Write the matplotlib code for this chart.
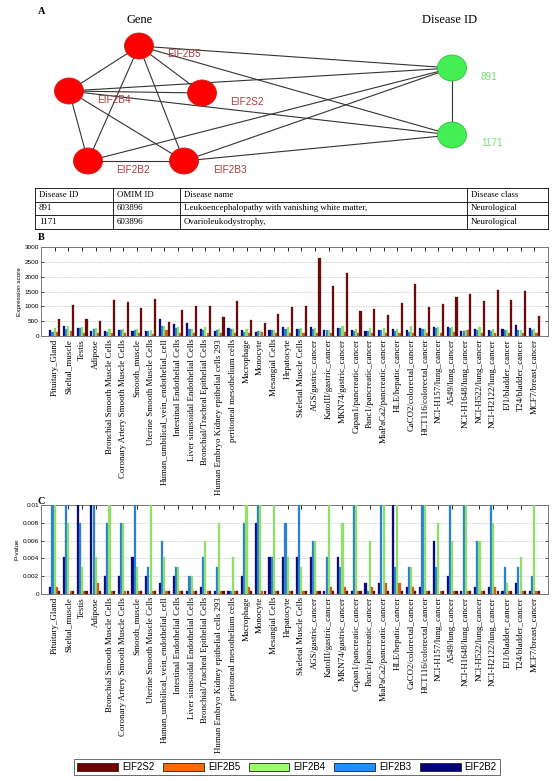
import numpy as np
import matplotlib
matplotlib.use("Agg")
import matplotlib.pyplot as plt
from matplotlib.patches import Ellipse, Patch

# ---------------- data ----------------
categories = [
    "Pituitary_Gland", "Skeltal_muscle", "Testis", "Adipose",
    "Bronchial Smooth Muscle Cells", "Coronary Artery Smooth Muscle Cells",
    "Smooth_muscle", "Uterine Smooth Muscle Cells",
    "Human_umbilical_vein_endothelial_cell", "Intestinal Endothelial Cells",
    "Liver sinusoidal Endothelial Cells", "Bronchial/Tracheal Epithelial Cells",
    "Human Embryo Kidney epithelial cells 293", "peritoneal mesothelium cells",
    "Macrophage", "Monocyte", "Mesangial Cells", "Hepatocyte",
    "Skeletal Muscle Cells", "AGS/gastric_cancer", "KatoIII/gastric_cancer",
    "MKN74/gastric_cancer", "Capan1/pancreatic_cancer", "Panc1/pancreatic_cancer",
    "MiaPaCa2/pancreatic_cancer", "HLE/hepatic_cancer", "CaCO2/colorectal_cancer",
    "HCT116/colorectal_cancer", "NCI-H157/lung_cancer", "A549/lung_cancer",
    "NCI-H1648/lung_cancer", "NCI-H522/lung_cancer", "NCI-H2122/lung_cancer",
    "EJ1/bladder_cancer", "T24/bladder_cancer", "MCF7/breast_cancer",
]

series_names = ["EIF2B2", "EIF2B3", "EIF2B4", "EIF2B5", "EIF2S2"]

# Panel B: expression score
expr_EIF2B2 = [202, 337, 258, 180, 168, 213, 180, 157, 585, 416, 438, 247,
               180, 281, 213, 124, 202, 315, 247, 292, 213, 258, 202, 180,
               191, 225, 202, 270, 292, 292, 180, 236, 202, 247, 382, 270]
expr_EIF2B3 = [146, 225, 258, 236, 146, 213, 202, 157, 337, 258, 225, 202,
               202, 247, 146, 157, 202, 247, 247, 236, 213, 270, 168, 168,
               191, 168, 146, 247, 270, 258, 180, 202, 168, 202, 202, 202]
expr_EIF2B4 = [281, 337, 292, 270, 225, 225, 247, 202, 326, 292, 247, 292,
               225, 225, 247, 180, 191, 292, 270, 258, 213, 326, 225, 258,
               258, 247, 348, 236, 292, 292, 213, 315, 247, 213, 202, 225]
expr_EIF2B5 = [124, 180, 90, 90, 90, 90, 90, 79, 202, 112, 90, 90,
               90, 90, 90, 135, 90, 90, 90, 90, 112, 135, 112, 90,
               112, 90, 112, 112, 90, 135, 202, 112, 90, 112, 90, 90]
expr_EIF2S2 = [580, 1060, 580, 500, 1215, 1130, 940, 1255, 475, 890, 1005, 1000,
               640, 1190, 530, 425, 742, 978, 1011, 2618, 1685, 2112, 843, 900,
               708, 1101, 1764, 978, 1067, 1315, 1427, 1191, 1550, 1202, 1505, 674]

# Panel C: P-value
p_EIF2B2 = [0.00075, 0.0042, 0.01, 0.01, 0.002, 0.002, 0.0042, 0.002, 0.0012, 0.002,
            0.0003, 0.00075, 0.0003, 0.0003, 0.002, 0.008, 0.0042, 0.0042, 0.0042,
            0.0042, 0.0003, 0.0042, 0.0003, 0.0012, 0.0012, 0.01, 0.00075, 0.00075,
            0.006, 0.002, 0.0003, 0.00075, 0.00075, 0.0003, 0.0012, 0.0003]
p_EIF2B3 = [0.01, 0.01, 0.008, 0.01, 0.008, 0.008, 0.01, 0.003, 0.006, 0.003,
            0.002, 0.0042, 0.003, 0.0003, 0.008, 0.01, 0.0042, 0.008, 0.01,
            0.006, 0.0042, 0.003, 0.01, 0.0003, 0.01, 0.003, 0.003, 0.01,
            0.003, 0.01, 0.01, 0.006, 0.01, 0.003, 0.003, 0.002]
p_EIF2B4 = [0.01, 0.008, 0.003, 0.0042, 0.01, 0.008, 0.003, 0.01, 0.0042, 0.003,
            0.002, 0.006, 0.008, 0.0042, 0.01, 0.01, 0.01, 0.0042, 0.003,
            0.006, 0.01, 0.008, 0.01, 0.006, 0.01, 0.01, 0.003, 0.01,
            0.008, 0.006, 0.01, 0.006, 0.008, 0.0012, 0.0042, 0.01]
p_EIF2B5 = [0.00075, 0.0003, 0.0003, 0.0012, 0.0003, 0.0003, 0.0003, 0.0003, 0.0003, 0.0003,
            0.0003, 0.0003, 0.0003, 0.0003, 0.00075, 0.0003, 0.0003, 0.0003, 0.0003,
            0.0003, 0.00075, 0.00075, 0.0003, 0.00075, 0.0012, 0.0012, 0.00075, 0.0003,
            0.0003, 0.0003, 0.0003, 0.0003, 0.00075, 0.0003, 0.0003, 0.0003]
p_EIF2S2 = [0.0003] * 36

# Panel A network
gene_nodes = ["EIF2B5", "EIF2B4", "EIF2S2", "EIF2B2", "EIF2B3"]
disease_nodes = ["891", "1171"]
edges = [("EIF2B5", "EIF2B4"), ("EIF2B5", "EIF2S2"), ("EIF2B5", "EIF2B2"),
         ("EIF2B5", "EIF2B3"), ("EIF2B5", "891"), ("EIF2B5", "1171"),
         ("EIF2B4", "EIF2S2"), ("EIF2B4", "EIF2B2"), ("EIF2B4", "EIF2B3"),
         ("EIF2B4", "891"), ("EIF2B4", "1171"),
         ("EIF2B2", "EIF2B3"), ("EIF2B2", "891"),
         ("EIF2B3", "891"), ("EIF2B3", "1171"), ("891", "1171")]

table_header = ["Disease ID", "OMIM ID", "Disease name", "Disease class"]
table_rows = [["891", "603896", "Leukoencephalopathy with vanishing white matter,", "Neurological"],
              ["1171", "603896", "Ovarioleukodystrophy,", "Neurological"]]

# ---------------- styling ----------------
bar_colors = {"EIF2B2": "#0b0b7a", "EIF2B3": "#2a80d2", "EIF2B4": "#8fe06a",
              "EIF2B5": "#c8621e", "EIF2S2": "#6a0c0c"}
legend_colors = {"EIF2S2": "#720000", "EIF2B5": "#ff6a00", "EIF2B4": "#9cff66",
                 "EIF2B3": "#1e90ff", "EIF2B2": "#000080"}

W, H = 554, 781
fig = plt.figure(figsize=(W / 100, H / 100), dpi=100)

def frac(x0, y0, x1, y1):
    return [x0 / W, 1 - y1 / H, (x1 - x0) / W, (y1 - y0) / H]

serif = "Liberation Serif"
sans = "Liberation Sans"

# ---------------- Panel A ----------------
axA = fig.add_axes([0, 1 - 232 / H, 1, 232 / H])
axA.set_xlim(0, W)
axA.set_ylim(232, 0)
axA.axis("off")

pos = {"EIF2B5": (139, 46), "EIF2B4": (69, 91), "EIF2S2": (202, 93),
       "EIF2B2": (88, 161), "EIF2B3": (184, 161), "891": (452, 68), "1171": (452, 135)}
lab = {"EIF2B5": (167, 54), "EIF2B4": (97, 100), "EIF2S2": (230, 102),
       "EIF2B2": (116, 170), "EIF2B3": (213, 170), "891": (481, 77), "1171": (481, 143)}

for a, b in edges:
    axA.plot([pos[a][0], pos[b][0]], [pos[a][1], pos[b][1]], color="#333333", lw=0.8, zorder=1)
for n in gene_nodes:
    axA.add_patch(Ellipse(pos[n], 29, 26, facecolor="#ff0000", edgecolor="#cc2020", lw=0.6, zorder=2))
    axA.text(*lab[n], n, color="#a83a3a", fontsize=7.2, family=sans, va="center", ha="left")
for n in disease_nodes:
    axA.add_patch(Ellipse(pos[n], 29, 26, facecolor="#44ee55", edgecolor="#33bb44", lw=0.6, zorder=2))
    axA.text(*lab[n], n, color="#77dd77", fontsize=7.2, family=sans, va="center", ha="left")

axA.text(38, 12, "A", fontsize=7.5, fontweight="bold", family=serif, va="center")
axA.text(140, 20, "Gene", fontsize=9, family=serif, ha="center", va="center")
axA.text(450, 20, "Disease ID", fontsize=9, family=serif, ha="center", va="center")

# table
col_x = [35, 113, 180, 467, 548]
row_y = [188, 201.5, 215, 229]
for xx in col_x:
    axA.plot([xx, xx], [row_y[0], row_y[-1]], color="black", lw=0.6)
for y in row_y:
    axA.plot([col_x[0], col_x[-1]], [y, y], color="black", lw=0.6)
for r, row in enumerate([table_header] + table_rows):
    yc = (row_y[r] + row_y[r + 1]) / 2
    for c, txt in enumerate(row):
        axA.text(col_x[c] + 4, yc, txt, fontsize=6.4, family=serif, va="center", ha="left")

# ---------------- Bar panels ----------------
x = np.arange(1, len(categories) + 1)
bw = 0.155
offsets = np.array([-2, -1, 0, 1, 2]) * 0.16

def bar_panel(ax, data, ylim, yticks, yticklabels, ylabel):
    for k, name in enumerate(series_names):
        ax.bar(x + offsets[k], data[k], width=bw, color=bar_colors[name],
               edgecolor=bar_colors[name], linewidth=0.2, zorder=3)
    ax.set_xlim(0, len(categories) + 1)
    ax.set_ylim(*ylim)
    ax.set_yticks(yticks)
    ax.set_yticklabels(yticklabels, fontsize=4.6, family=sans)
    ax.set_xticks(x)
    ax.set_xticklabels(categories, rotation=90, fontsize=6.4, family=serif, va="top")
    ax.tick_params(axis="x", direction="in", top=True, bottom=True, length=3, width=0.6, pad=2)
    ax.tick_params(axis="y", direction="in", left=True, right=True, length=2, width=0.5, pad=1.5)
    ax.grid(axis="y", linestyle=(0, (1, 1.5)), color="#aaaaaa", lw=0.5, zorder=0)
    for s in ax.spines.values():
        s.set_color("#777777")
        s.set_linewidth(0.7)
    ax.set_ylabel(ylabel, fontsize=4.6, family=sans, labelpad=2)

axB = fig.add_axes(frac(41, 247, 548, 336))
bar_panel(axB, [expr_EIF2B2, expr_EIF2B3, expr_EIF2B4, expr_EIF2B5, expr_EIF2S2],
          (0, 3000), np.arange(0, 3001, 500), [str(v) for v in range(0, 3001, 500)],
          "Expression score")
fig.text(38 / W, 1 - 238 / H, "B", fontsize=7.5, fontweight="bold", family=serif, va="center")

axC = fig.add_axes(frac(41, 505, 548, 594))
bar_panel(axC, [p_EIF2B2, p_EIF2B3, p_EIF2B4, p_EIF2B5, p_EIF2S2],
          (0, 0.01), np.linspace(0, 0.01, 6), ["0", "0.002", "0.004", "0.006", "0.008", "0.01"],
          "P-value")
fig.text(38 / W, 1 - 502 / H, "C", fontsize=7.5, fontweight="bold", family=serif, va="center")

# ---------------- Legend ----------------
leg_order = ["EIF2S2", "EIF2B5", "EIF2B4", "EIF2B3", "EIF2B2"]
handles = [Patch(facecolor=legend_colors[n], edgecolor="#222222", lw=0.6, label=n) for n in leg_order]
leg = fig.legend(handles=handles, loc="center", bbox_to_anchor=(287 / W, 1 - 767 / H),
                 ncol=5, frameon=True, fancybox=False, edgecolor="#444444",
                 prop={"family": sans, "size": 7}, handlelength=4.2, handleheight=0.9,
                 handletextpad=0.4, columnspacing=0.9, borderpad=0.35)
leg.get_frame().set_linewidth(0.7)

fig.savefig("out.png", dpi=100)
